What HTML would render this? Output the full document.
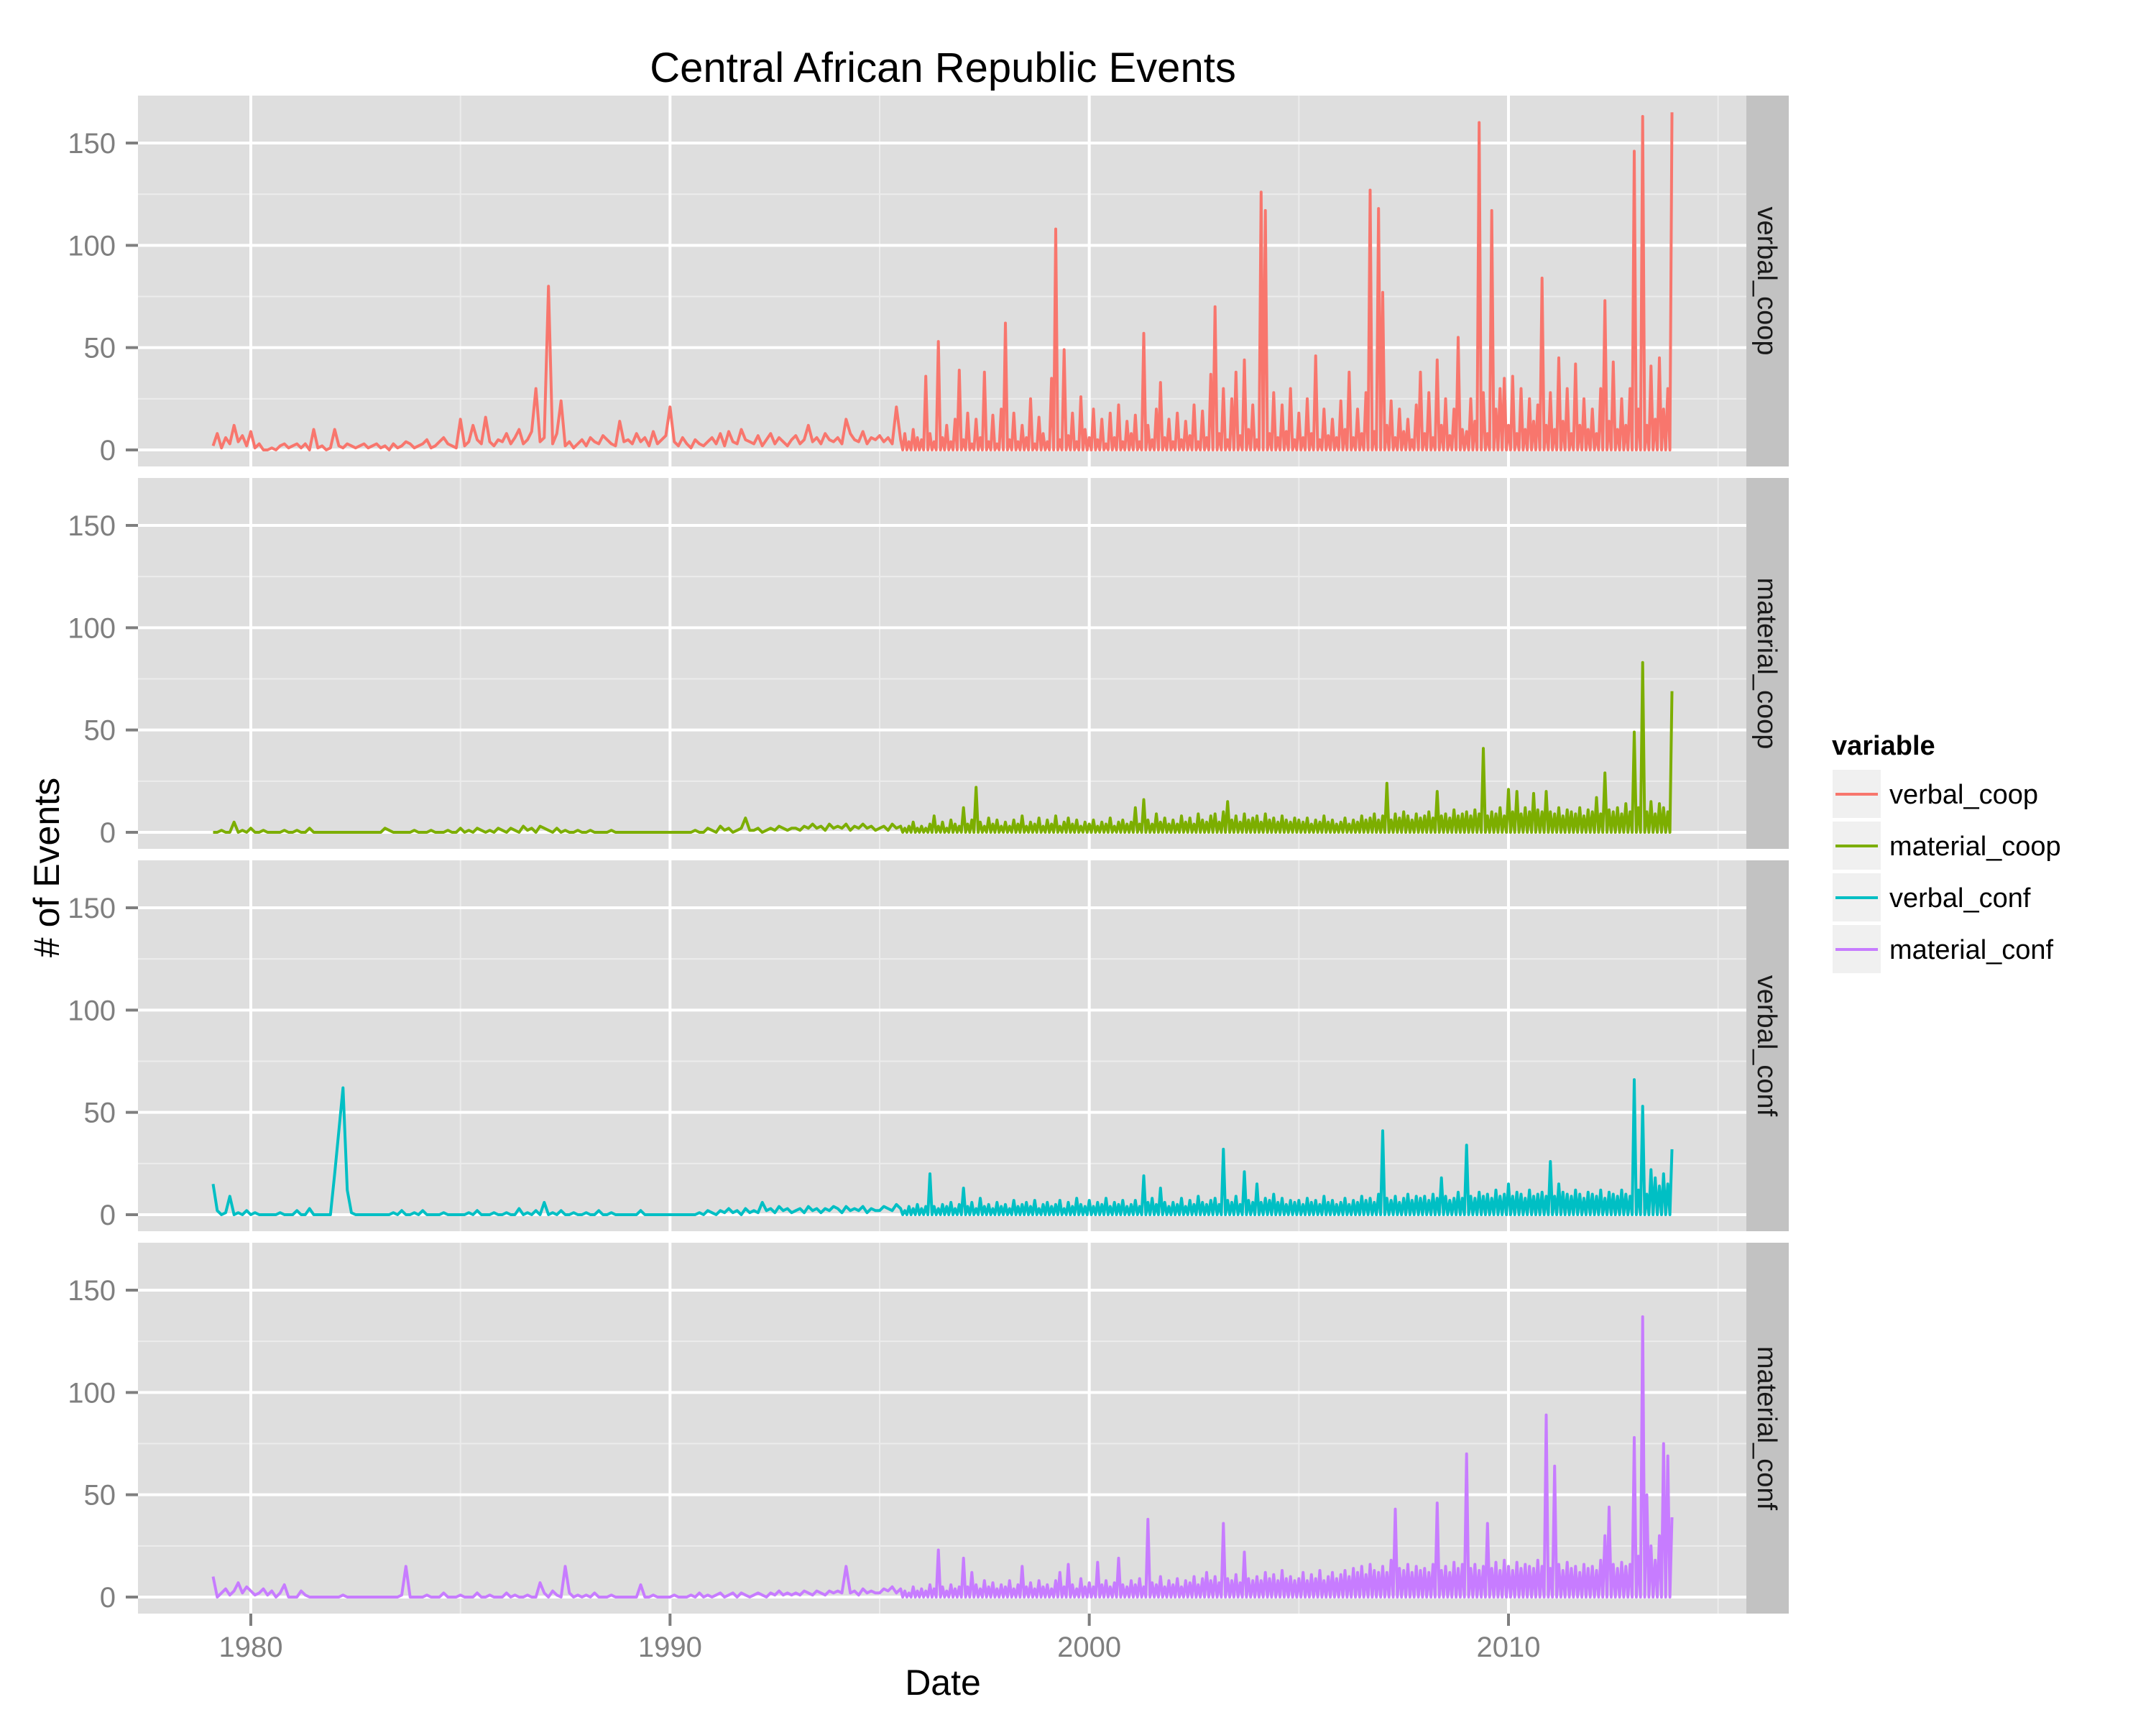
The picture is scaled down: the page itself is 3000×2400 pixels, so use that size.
<!DOCTYPE html>
<html><head><meta charset="utf-8"><style>
html,body{margin:0;padding:0;background:#fff;}
svg{display:block;font-family:"Liberation Sans",Arial,sans-serif;}
</style></head><body>
<svg id="chart" width="3000" height="2400" viewBox="0 0 3000 2400" xmlns="http://www.w3.org/2000/svg">
<rect x="0" y="0" width="3000" height="2400" fill="#ffffff"/>
<text x="1312" y="114" font-size="58" text-anchor="middle" fill="#000">Central African Republic Events</text>
<text x="1312" y="2358" font-size="50" text-anchor="middle" fill="#000">Date</text>
<text x="0" y="0" font-size="50" text-anchor="middle" fill="#000" transform="translate(82,1207) rotate(-90)"># of Events</text>
<g id="panels"></g>
<g id="legend"></g>
</svg>
<script>
const seriesNames = ["verbal_coop","material_coop","verbal_conf","material_conf"];
const seriesColors = ["#F8766D","#7CAE00","#00BFC4","#C77CFF"];
const yTicks = [0,50,100,150];
const yMinor = [25,75,125];
const xTicks = [1980,1990,2000,2010];
const xMinor = [1985,1995,2005,2015];
const startYear = 1979.1;
const stepYear = 0.1;
const denseFrom = 1995.5;
const verbalCoop = [
2,8,1,6,3,12,4,7,2,
9,1,3,0,0,1,0,2,3,1,
2,3,1,3,0,10,1,2,0,1,
10,2,1,3,2,1,2,3,1,2,
3,1,2,0,3,1,2,4,3,1,
2,3,5,1,2,4,6,3,2,1,
15,2,4,12,5,3,16,4,2,5,
4,8,3,6,10,3,5,9,30,4,
6,80,3,8,24,2,4,1,3,5,
2,6,4,3,7,5,3,2,14,4,
5,3,8,4,6,2,9,3,5,7,
21,4,2,6,3,1,5,3,2,4,
6,3,8,2,9,4,3,10,5,4,
3,7,2,5,8,3,6,4,2,5,
7,3,5,12,4,6,3,8,5,4,
6,3,15,8,5,4,9,3,6,5,
7,4,6,3,21,5,8,4,10,6,
5,36,8,4,53,6,12,4,15,39,
5,18,3,15,6,38,4,17,3,20,
62,5,18,4,12,6,25,3,16,8,
4,35,108,5,49,7,18,4,26,10,
6,20,5,15,3,18,6,22,4,14,
8,17,4,57,12,5,20,33,6,15,
4,18,5,14,7,22,4,19,6,37,
70,8,30,5,25,38,7,44,10,22,
5,126,117,8,28,6,22,9,30,5,
18,6,25,8,46,5,20,7,15,6,
24,10,38,6,20,8,28,127,9,118,
77,12,24,6,20,9,15,5,22,38,
8,28,6,44,12,25,7,20,55,10,
9,25,14,160,28,8,117,20,30,35,
12,36,8,30,10,25,14,22,84,12,
28,10,45,14,30,8,42,12,25,10,
20,8,30,73,14,43,10,25,12,30,
146,20,163,12,41,15,45,20,30,165];
const materialCoop = [
0,0,1,0,0,5,0,1,0,
2,0,0,1,0,0,0,0,1,0,
0,1,0,0,2,0,0,0,0,0,
0,0,0,0,0,0,0,0,0,0,
0,0,2,1,0,0,0,0,0,1,
0,0,0,1,0,0,0,1,0,0,
2,0,1,0,2,1,0,1,0,2,
1,0,2,1,0,3,1,2,0,3,
2,1,0,2,0,1,0,0,1,0,
0,1,0,0,0,0,1,0,0,0,
0,0,0,0,0,0,0,0,0,0,
0,0,0,0,0,0,1,0,0,2,
1,0,3,1,2,0,1,2,7,1,
1,2,0,1,2,1,3,2,1,2,
2,1,3,2,4,2,3,1,4,2,
3,2,4,1,3,2,4,2,3,1,
2,3,1,4,2,3,2,3,5,2,
3,2,4,8,3,5,2,6,4,3,
12,4,6,22,5,3,7,4,6,3,
5,3,6,4,8,3,5,4,7,3,
6,4,8,3,5,7,4,6,3,5,
4,6,3,5,4,7,3,5,6,4,
5,12,4,16,6,4,9,5,7,4,
6,4,8,5,7,4,9,6,5,8,
9,5,10,15,6,8,5,9,6,7,
8,5,9,6,7,5,8,6,5,7,
6,5,7,4,6,5,8,5,6,4,
5,7,4,6,5,8,6,7,9,6,
8,24,6,9,7,10,8,6,9,7,
8,10,7,20,8,9,7,11,8,9,
10,8,11,9,41,8,10,9,12,8,
21,10,20,9,12,10,19,11,10,20,
10,9,12,8,11,10,9,12,8,11,
10,17,9,29,11,10,12,9,14,10,
49,12,83,10,15,9,14,12,10,69];
const verbalConf = [
15,2,0,1,9,0,1,0,2,
0,1,0,0,0,0,0,1,0,0,
0,2,0,0,3,0,0,0,0,0,
20,41,62,12,1,0,0,0,0,0,
0,0,0,0,1,0,2,0,0,1,
0,2,0,0,0,0,1,0,0,0,
0,0,1,0,2,0,0,0,1,0,
0,1,0,0,3,0,1,0,2,0,
6,0,1,0,2,0,0,1,0,0,
1,0,0,2,0,0,1,0,0,0,
0,0,0,2,0,0,0,0,0,0,
0,0,0,0,0,0,0,1,0,2,
1,0,2,1,3,1,2,0,3,1,
2,1,6,2,3,1,4,2,3,1,
2,3,1,4,2,3,1,3,2,4,
3,1,4,2,3,2,4,1,3,2,
2,4,3,2,5,3,2,4,3,5,
3,4,20,4,3,5,4,6,3,5,
13,4,6,3,8,4,5,3,6,4,
5,3,7,4,5,6,4,7,3,5,
6,4,5,7,3,6,4,8,5,4,
7,4,6,5,8,4,6,5,7,4,
5,7,4,19,6,8,5,13,6,4,
6,5,8,4,7,5,9,6,5,7,
8,5,32,7,6,9,5,21,7,6,
15,6,8,7,10,6,8,5,7,6,
7,5,8,6,7,5,9,6,7,5,
6,8,5,7,6,9,7,8,6,10,
41,8,7,9,6,8,10,7,9,8,
9,7,10,8,18,9,7,8,11,8,
34,9,8,11,9,10,8,12,9,10,
15,9,11,10,8,12,9,10,11,9,
26,9,15,11,10,9,12,10,8,11,
10,9,12,8,11,10,9,12,10,9,
66,12,53,10,22,18,14,20,15,32];
const materialConf = [
10,0,2,4,1,3,7,2,5,
3,1,2,4,1,3,0,2,6,0,
0,0,3,1,0,0,0,0,0,0,
0,0,1,0,0,0,0,0,0,0,
0,0,0,0,0,0,1,15,0,0,
0,0,1,0,0,0,2,0,0,0,
1,0,0,0,2,0,0,1,0,0,
0,2,0,1,0,0,1,0,0,7,
2,0,3,1,0,15,2,0,1,0,
1,0,2,0,0,0,1,0,0,0,
0,0,0,6,0,0,1,0,0,0,
0,1,0,0,0,1,0,2,0,1,
0,1,2,0,1,2,0,2,1,0,
1,2,1,0,2,1,3,1,2,1,
2,1,3,2,1,3,2,1,3,2,
3,2,15,2,3,1,4,2,3,2,
2,4,3,5,2,4,3,2,5,3,
4,3,6,4,23,5,3,6,4,5,
19,5,12,6,4,8,5,7,4,6,
5,8,4,6,15,5,7,4,8,5,
6,4,8,12,5,16,6,4,9,5,
7,5,17,6,8,5,7,19,6,5,
8,6,9,5,38,7,6,10,5,8,
6,9,5,8,7,10,6,9,12,8,
10,7,36,9,8,11,7,22,9,8,
10,8,12,9,11,8,13,9,10,8,
9,12,8,11,9,13,8,10,12,9,
11,13,10,14,12,15,11,16,13,12,
15,12,18,43,14,13,16,12,15,13,
14,12,16,46,13,15,12,17,14,16,
70,14,16,13,15,36,14,17,13,18,
15,13,17,14,16,15,14,18,15,89,
14,64,16,13,17,14,15,12,16,14,
15,13,18,30,44,16,14,17,15,16,
78,20,137,50,25,18,30,75,69,39];
const seriesValues = [verbalCoop, materialCoop, verbalConf, materialConf];

const NS = "http://www.w3.org/2000/svg";
const PL = 192, PR = 2430, PH = 516, GAP = 16, TOP0 = 133;
const ZERO_OFF = 493, PX_PER_UNIT = 2.8467;
function xScale(year){ return 349 + (year - 1980) * 58.333; }
function yScale(v, top){ return top + ZERO_OFF - v * PX_PER_UNIT; }
function mk(tag, attrs, parent){
  const e = document.createElementNS(NS, tag);
  for (const k in attrs) e.setAttribute(k, attrs[k]);
  parent.appendChild(e);
  return e;
}
const panelsG = document.getElementById('panels');
seriesNames.forEach((name, si) => {
  const top = TOP0 + si * (PH + GAP);
  const g = mk('g', {}, panelsG);
  
  
  const bg = mk('rect', {x:PL, y:top, width:PR-PL, height:PH, fill:'#dedede'}, g);
  
  
  yMinor.forEach(v => {
    const l = mk('line', {x1:PL, x2:PR, y1:yScale(v,top), y2:yScale(v,top), stroke:'#ececec', 'stroke-width':2}, g);
    
    
  });
  xMinor.forEach(v => {
    const l = mk('line', {x1:xScale(v), x2:xScale(v), y1:top, y2:top+PH, stroke:'#ececec', 'stroke-width':2}, g);
    
    
  });
  yTicks.forEach(v => {
    const y = yScale(v, top);
    const l = mk('line', {x1:PL, x2:PR, y1:y, y2:y, stroke:'#ffffff', 'stroke-width':4}, g);
    
    
    const t = mk('line', {x1:175, x2:PL, y1:y, y2:y, stroke:'#7f7f7f', 'stroke-width':4}, g);
    
    
    const tx = mk('text', {x:161, y:y+14, 'font-size':40, 'text-anchor':'end', fill:'#7f7f7f'}, g);
    tx.textContent = String(v);
    
    
  });
  xTicks.forEach(v => {
    const l = mk('line', {x1:xScale(v), x2:xScale(v), y1:top, y2:top+PH, stroke:'#ffffff', 'stroke-width':4}, g);
    
    
  });
  const vals = seriesValues[si];
  const ptsArr = [];
  vals.forEach((v, i) => {
    const yr = startYear + i*stepYear;
    ptsArr.push(xScale(yr).toFixed(1) + ',' + yScale(v, top).toFixed(1));
    if (yr >= denseFrom && i < vals.length - 1) {
      ptsArr.push(xScale(yr + stepYear/2).toFixed(1) + ',' + yScale(0, top).toFixed(1));
    }
  });
  const line = mk('polyline', {points:ptsArr.join(' '), fill:'none', stroke:seriesColors[si], 'stroke-width':4, 'stroke-linejoin':'round'}, g);
  
  
  const strip = mk('rect', {x:PR, y:top, width:59, height:PH, fill:'#c2c2c2'}, g);
  
  
  const st = mk('text', {x:0, y:0, 'font-size':38, 'text-anchor':'middle', fill:'#1a1a1a', transform:'translate(' + (PR+16) + ',' + (top+PH/2) + ') rotate(90)'}, g);
  st.textContent = name;
  
  
});
const lastBottom = TOP0 + 3*(PH+GAP) + PH;
xTicks.forEach(v => {
  const t = mk('line', {x1:xScale(v), x2:xScale(v), y1:lastBottom, y2:lastBottom+17, stroke:'#7f7f7f', 'stroke-width':4}, panelsG);
  
  
  const tx = mk('text', {x:xScale(v), y:2305, 'font-size':40, 'text-anchor':'middle', fill:'#7f7f7f'}, panelsG);
  tx.textContent = String(v);
  
  
});
const legendG = document.getElementById('legend');
const lt = mk('text', {x:2549, y:1050, 'font-size':38, 'font-weight':'bold', fill:'#000'}, legendG);
lt.textContent = 'variable';


seriesNames.forEach((name, si) => {
  const top = 1071 + si*72;
  const eg = mk('g', {}, legendG);
  
  
  const kb = mk('rect', {x:2550, y:top, width:67, height:67, fill:'#f0f0f0'}, eg);
  
  
  const kl = mk('line', {x1:2554, x2:2613, y1:top+34, y2:top+34, stroke:seriesColors[si], 'stroke-width':4}, eg);
  
  
  const tx = mk('text', {x:2629, y:top+47, 'font-size':38, fill:'#000'}, eg);
  tx.textContent = name;
  
  
});
</script>
</body></html>
